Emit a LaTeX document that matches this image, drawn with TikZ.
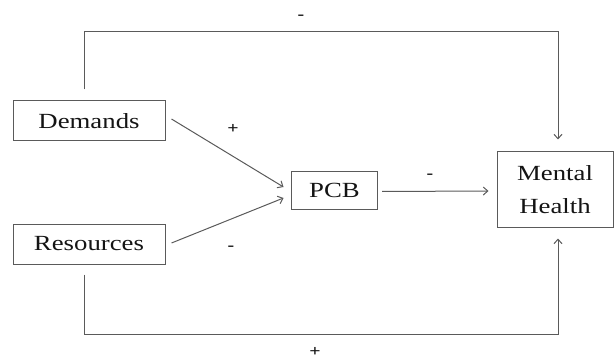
\documentclass[tikz,border=0pt]{standalone}
\usepackage{fontspec}
\setmainfont{Liberation Serif}[FakeStretch=1.24]
\usepackage{xcolor}
\usetikzlibrary{arrows.meta,positioning,calc}
\definecolor{ink}     {HTML}{141414}
\definecolor{inkgray} {HTML}{5A5A5A}
\definecolor{linegray}{HTML}{5A5A5A}
\tikzset{
  varbox/.style={draw=inkgray,line width=1pt,text=ink,align=center,
                 inner sep=0pt,font=\fontsize{21.6}{33.5}\selectfont},
  link/.style={draw=linegray,line width=1pt,
               -{Straight Barb[length=4.5pt,width=8pt]}},
  sign/.style={text=ink,inner sep=0pt,font=\fontsize{16}{16}\selectfont\bfseries}
}

\begin{document}
\begin{tikzpicture}[x=1pt,y=-1pt]
          \useasboundingbox (0,0) rectangle (614,361);
          % variables
          \node[varbox,minimum width=152pt,minimum height=40pt] (dem) at (89,121) {Demands};
          \node[varbox,minimum width=152pt,minimum height=40pt] (res) at (89,244) {Resources};
          \node[varbox,minimum width=86pt,minimum height=38pt] (pcb) at (334.5,190) {PCB};
          \node[varbox,minimum width=116pt,minimum height=76pt] (mh) at (555,189.5) {Mental\\Health};
          % paths
          \coordinate (topR) at (558,32);
          \coordinate (botR) at (558,334);
          \draw[link] ([xshift=6pt,yshift=2pt]dem.east) -- ([xshift=-7.5pt,yshift=3pt]pcb.west);
          \draw[link] ([xshift=6pt,yshift=1pt]res.east) -- ([xshift=-7.5pt,yshift=-8pt]pcb.west);
          \draw[link] ([xshift=4pt,yshift=-1.5pt]pcb.east) -- ([xshift=-8pt,yshift=-1.5pt]mh.west);
          \draw[link] ([xshift=-4.5pt,yshift=11pt]dem.north) |- (topR) -- ([xshift=3pt,yshift=11.5pt]mh.north);
          \draw[link] ([xshift=-4.5pt,yshift=-10pt]res.south) |- (botR) -- ([xshift=3pt,yshift=-10.5pt]mh.south);
          % signs
          \node[sign] (sTop) at (301,17) {-};
          \node[sign] (sBot) at (315,352) {+};
          \node[sign] (sDem) at (233,129) {+};
          \node[sign] (sRes) at (231,248) {-};
          \node[sign] (sPcb) at (430,176) {-};
        \end{tikzpicture}
\end{document}
